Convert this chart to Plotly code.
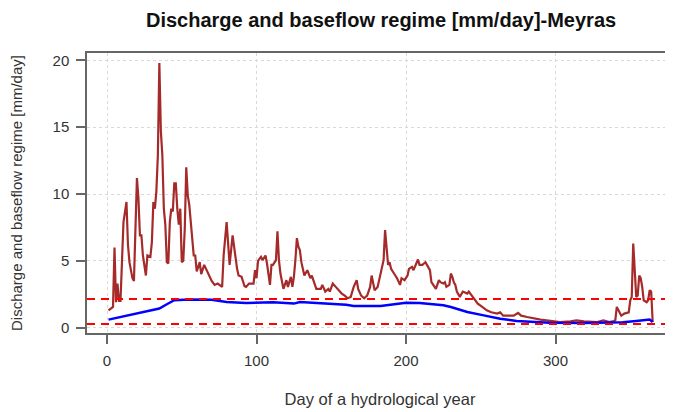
import plotly.graph_objects as go

# Discharge (mm/day)
q_days = [1, 4, 5, 6, 7, 8, 9, 10, 11, 13, 14, 15, 17, 18, 19, 20, 21, 22, 23, 24, 26, 27, 29, 30,
          31, 32, 33, 34, 35, 36, 37, 38, 39, 40, 41, 42, 43, 44, 45, 46, 47, 48, 49, 50, 51, 52,
          53, 54, 55, 56, 57, 58, 59, 60, 62, 63, 65, 68, 70, 72, 74, 77, 78, 80, 81, 82, 84, 85,
          87, 88, 90, 92, 93, 95, 98, 99, 100, 101, 103, 104, 106, 107, 108, 109, 110, 111, 113,
          114, 115, 116, 118, 120, 121, 123, 124, 125, 126, 127, 128, 129, 130, 132, 134, 136,
          137, 139, 140, 143, 144, 146, 148, 149, 151, 153, 155, 157, 159, 161, 163, 165, 167,
          168, 170, 172, 174, 176, 177, 178, 179, 181, 182, 184, 185, 186, 187, 188, 189, 190,
          192, 194, 196, 197, 199, 201, 202, 204, 205, 207, 208, 209, 211, 212, 213, 214, 216,
          217, 219, 220, 222, 223, 225, 226, 227, 229, 230, 231, 232, 233, 234, 236, 238, 241,
          242, 244, 246, 248, 251, 254, 257, 261, 263, 265, 269, 272, 275, 277, 281, 285, 290,
          294, 298, 303, 310, 314, 319, 323, 328, 332, 336, 339, 340, 341, 342, 343, 344, 346,
          349, 350, 351, 352, 353, 354, 355, 356, 357, 358, 359, 361, 362, 363, 364, 365]
q_vals = [1.3, 1.55, 6.0, 1.9, 3.3, 2.0, 2.0, 5.7, 7.9, 9.4, 6.2, 4.9, 3.7, 3.5, 7.4, 11.2, 9.7,
          6.9, 6.9, 5.4, 3.9, 5.4, 5.3, 6.4, 9.4, 8.9, 10.2, 12.9, 19.8, 14.7, 12.9, 8.9, 7.7,
          4.9, 4.8, 7.9, 8.9, 8.7, 10.8, 10.8, 8.9, 7.7, 8.9, 4.9, 5.0, 7.4, 12.0, 9.9, 9.2,
          7.7, 6.4, 5.4, 5.4, 4.2, 4.9, 4.0, 4.7, 3.9, 3.5, 3.2, 3.3, 3.05, 5.4, 7.9, 5.9, 4.7,
          6.9, 5.9, 4.4, 3.9, 3.8, 3.1, 3.05, 3.3, 3.3, 4.3, 3.7, 5.0, 5.3, 5.05, 5.4, 4.8, 3.8,
          3.2, 4.7, 4.7, 5.05, 7.2, 5.05, 4.05, 2.9, 3.55, 3.05, 3.8, 3.05, 3.8, 5.05, 6.7, 6.05,
          5.8, 4.9, 3.9, 4.3, 3.7, 3.9, 3.3, 2.9, 2.9, 3.2, 2.7, 2.9, 2.7, 3.3, 3.05, 2.8, 2.55,
          2.4, 2.2, 2.3, 3.05, 3.55, 2.9, 2.4, 2.2, 2.4, 3.05, 3.9, 3.2, 2.8, 3.05, 3.55, 4.55,
          5.05, 7.3, 5.8, 4.7, 4.9, 4.4, 4.05, 3.7, 3.2, 3.7, 3.55, 3.9, 4.4, 4.55, 4.3, 4.9,
          5.1, 4.7, 4.7, 4.8, 4.9, 4.7, 4.3, 3.4, 3.05, 2.9, 3.55, 3.4, 3.3, 3.4, 3.05, 3.2,
          4.05, 3.8, 3.4, 3.2, 2.7, 2.3, 2.7, 2.55, 2.7, 2.4, 2.05, 1.8, 1.55, 1.3, 1.15, 1.05,
          1.15, 0.9, 0.9, 0.9, 1.1, 0.9, 0.8, 0.7, 0.6, 0.55, 0.5, 0.42, 0.47, 0.55, 0.47, 0.47,
          0.42, 0.55, 0.42, 0.5, 0.55, 1.55, 1.3, 1.05, 0.9, 1.05, 1.15, 2.05, 2.3, 6.3, 3.9,
          2.3, 2.4, 3.9, 3.7, 3.05, 2.05, 1.9, 2.05, 2.8, 2.7, 0.42]

# Baseflow (mm/day)
b_days = [1, 35, 40, 45, 55, 70, 80, 93, 111, 125, 129, 145, 160, 165, 176, 183, 200, 209,
          218, 225, 230, 235, 241, 252, 263, 274, 285, 296, 319, 337, 345, 354, 363, 365]
b_vals = [0.6, 1.43, 1.75, 2.05, 2.1, 2.08, 1.92, 1.85, 1.9, 1.8, 1.92, 1.8, 1.72, 1.62, 1.6,
          1.62, 1.87, 1.85, 1.75, 1.67, 1.55, 1.4, 1.17, 0.92, 0.67, 0.5, 0.42, 0.37, 0.35,
          0.35, 0.4, 0.5, 0.6, 0.42]

# Threshold lines
thresholds = [2.15, 0.27]

x_ticks = [0, 100, 200, 300]
y_ticks = [0, 5, 10, 15, 20]

FONT = "Liberation Sans, Arial, sans-serif"

fig = go.Figure()
fig.add_trace(go.Scatter(x=q_days, y=q_vals, mode="lines",
                         line=dict(color="#A52A2A", width=2.2), showlegend=False))
fig.add_trace(go.Scatter(x=b_days, y=b_vals, mode="lines",
                         line=dict(color="#0000FF", width=2.5), showlegend=False))
for t in thresholds:
    fig.add_hline(y=t, line=dict(color="#FF0000", width=2, dash="8px,6px"))

# page body has an 8px margin, so the figure is sized / placed to compensate
fig.update_layout(
    width=665, height=404,
    margin=dict(l=79, r=0, t=45, b=79),
    paper_bgcolor="white", plot_bgcolor="white",
    font=dict(family=FONT, color="#333333", size=15),
    title=dict(text="<b>Discharge and baseflow regime [mm/day]-Meyras</b>",
               x=0.561, xanchor="center", xref="container",
               y=0.97, yanchor="middle", yref="container",
               font=dict(size=20, color="#111111", family=FONT)),
)
fig.update_xaxes(range=[-13.4, 378.6], tickvals=x_ticks, ticks="outside", ticklen=9,
                 tickcolor="#666666", tickwidth=1.5, automargin=False, ticklabelstandoff=4,
                 showline=True, linecolor="#666666", linewidth=1.5, mirror=True,
                 showgrid=True, gridcolor="#d9d9d9", griddash="dot", gridwidth=1,
                 zeroline=False, tickfont=dict(size=15, color="#333333"),
                 title=dict(text="Day of a hydrological year", standoff=26,
                            font=dict(size=16.5, color="#333333")))
fig.update_yaxes(range=[-0.4, 20.55], tickvals=y_ticks, ticks="outside", ticklen=9,
                 tickcolor="#666666", tickwidth=1.5, automargin=False, ticklabelstandoff=4,
                 showline=True, linecolor="#666666", linewidth=1.5,
                 showgrid=True, gridcolor="#d9d9d9", griddash="dot", gridwidth=1,
                 zeroline=False, tickfont=dict(size=15, color="#333333"),
                 title=dict(text="Discharge and baseflow regime [mm/day]", standoff=34,
                            font=dict(size=15, color="#333333")))

fig.write_html("out.html")
